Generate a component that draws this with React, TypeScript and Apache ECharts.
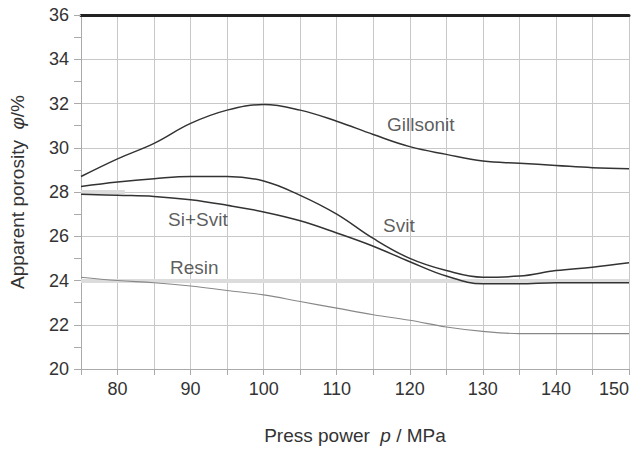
import React, { useEffect, useRef } from "react";
import * as echarts from "echarts";

const pressure = [75, 80, 85, 90, 95, 100, 105, 110, 115, 120, 125, 130, 135, 140, 145, 150];
const gillsonit = [28.7, 29.5, 30.2, 31.1, 31.7, 31.95, 31.7, 31.2, 30.6, 30.05, 29.7, 29.4, 29.3, 29.2, 29.1, 29.05];
const svit = [28.25, 28.45, 28.6, 28.7, 28.7, 28.5, 27.85, 27.0, 25.9, 25.0, 24.45, 24.15, 24.2, 24.45, 24.6, 24.8];
const siSvit = [27.9, 27.85, 27.8, 27.65, 27.4, 27.1, 26.7, 26.15, 25.55, 24.85, 24.2, 23.85, 23.85, 23.9, 23.9, 23.9];
const resin = [24.15, 24.0, 23.9, 23.75, 23.55, 23.35, 23.05, 22.75, 22.45, 22.2, 21.9, 21.7, 21.6, 21.6, 21.6, 21.6];

const labelNames = ["Gillsonit", "Svit", "Si+Svit", "Resin"];
const labelX = [121.5, 118.5, 91, 90.5];
const labelY = [31.05, 26.5, 26.75, 24.6];

const FONT = "Liberation Sans, Arial, sans-serif";

export default function App() {
  const ref = useRef<HTMLDivElement>(null);
  useEffect(() => {
    if (!ref.current) return;
    const chart = echarts.init(ref.current, undefined, { renderer: "svg" });
    const pair = (ys: number[]) => pressure.map((x, i) => [x, ys[i]]);
    const lineSeries = (name: string, ys: number[], color: string, width: number, extra: any = {}) => ({
      name,
      type: "line",
      data: pair(ys),
      smooth: 0.4,
      showSymbol: false,
      symbol: "none",
      lineStyle: { color, width },
      z: 3,
      ...extra,
    });
    chart.setOption({
      animation: false,
      textStyle: { fontFamily: FONT },
      grid: { left: 74, right: 10, top: 15, bottom: 70, containLabel: false },
      xAxis: [
        {
          type: "value",
          min: 75,
          max: 150,
          interval: 5,
          name: "Press power  {i|p} / MPa",
          nameLocation: "middle",
          nameGap: 57,
          nameTextStyle: {
            fontSize: 19,
            color: "#333",
            fontFamily: FONT,
            rich: { i: { fontStyle: "italic", fontSize: 19, color: "#333", fontFamily: FONT } },
          },
          axisLine: { show: true, lineStyle: { color: "#aaa", width: 1 } },
          axisTick: { show: true, length: 6, lineStyle: { color: "#aaa" } },
          axisLabel: {
            fontSize: 18,
            color: "#333",
            margin: 11,
            alignMaxLabel: "right",
            formatter: (v: number) => (v % 10 === 0 ? String(v) : ""),
          },
          splitLine: { show: true, lineStyle: { color: "#c8c8c8", width: 1 } },
        },
        {
          type: "value",
          position: "top",
          min: 75,
          max: 150,
          axisLine: { show: true, onZero: false, lineStyle: { color: "#222", width: 3 } },
          axisTick: { show: false },
          axisLabel: { show: false },
          splitLine: { show: false },
        },
      ],
      yAxis: {
        type: "value",
        min: 20,
        max: 36,
        interval: 2,
        name: "Apparent porosity  {i|φ}/%",
        nameLocation: "middle",
        nameGap: 54,
        nameTextStyle: {
          fontSize: 19,
          color: "#333",
          fontFamily: FONT,
          rich: { i: { fontStyle: "italic", fontSize: 19, color: "#333", fontFamily: FONT } },
        },
        axisLine: { show: true, lineStyle: { color: "#aaa", width: 1 } },
        axisTick: { show: true, length: 7, lineStyle: { color: "#aaa" } },
        minorTick: { show: true, splitNumber: 2, length: 7, lineStyle: { color: "#aaa" } },
        axisLabel: { fontSize: 18, color: "#333", margin: 12, padding: [14, 0, 0, 0] },
        splitLine: { show: true, lineStyle: { color: "#c8c8c8", width: 1 } },
      },
      series: [
        lineSeries("Gillsonit", gillsonit, "#333", 1.5),
        lineSeries("Svit", svit, "#333", 1.5),
        lineSeries("Si+Svit", siSvit, "#333", 1.5),
        lineSeries("Resin", resin, "#888", 1.1, {
          markLine: {
            silent: true,
            symbol: "none",
            label: { show: false },
            lineStyle: { color: "#dcdcdc", width: 4, type: "solid" },
            data: [
              { yAxis: 24 },
              [{ coord: [75, 28] }, { coord: [81, 28] }],
            ],
            z: 1,
          },
        }),
        {
          name: "labels",
          type: "scatter",
          symbolSize: 0,
          data: labelNames.map((n, i) => ({ value: [labelX[i], labelY[i]], name: n })),
          label: {
            show: true,
            position: "inside",
            formatter: (p: any) => p.name,
            fontSize: 19,
            color: "#333",
            fontFamily: FONT,
          },
          silent: true,
          z: 5,
        },
      ],
    });
    return () => chart.dispose();
  }, []);
  return (
    <div
      ref={ref}
      style={{ position: "fixed", left: 0, top: 0, width: 639, height: 450, background: "#fff" }}
    />
  );
}
